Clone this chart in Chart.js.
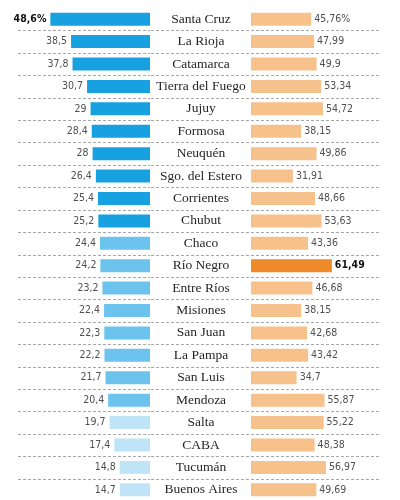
<!DOCTYPE html>
<html><head><meta charset="utf-8">
<script src="https://cdn.jsdelivr.net/npm/chart.js@4.4.0/dist/chart.umd.min.js"></script>
<style>
html,body{margin:0;padding:0;background:#fff;width:400px;height:500px;overflow:hidden;}
#wrap{position:relative;width:400px;height:500px;overflow:hidden;}
#left{position:absolute;left:0;top:0;}
#right{position:absolute;left:151px;top:0;}
</style></head><body>
<div id="wrap"><canvas id="left" width="150" height="501"></canvas><canvas id="right" width="249" height="501"></canvas></div>
<script>
const provinces = ["Santa Cruz","La Rioja","Catamarca","Tierra del Fuego","Jujuy","Formosa","Neuquén","Sgo. del Estero","Corrientes","Chubut","Chaco","Río Negro","Entre Ríos","Misiones","San Juan","La Pampa","San Luis","Mendoza","Salta","CABA","Tucumán","Buenos Aires"];
const leftValues = [48.6,38.5,37.8,30.7,29,28.4,28,26.4,25.4,25.2,24.4,24.2,23.2,22.4,22.3,22.2,21.7,20.4,19.7,17.4,14.8,14.7];
const rightValues = [45.76,47.99,49.9,53.34,54.72,38.15,49.86,31.91,48.66,53.63,43.36,61.49,46.68,38.15,42.68,43.42,34.7,55.87,55.22,48.38,56.97,49.69];

const BLUE_DARK = '#17a1e0', BLUE_MID = '#6bc3ee', BLUE_LIGHT = '#bfe4f7';
const ORANGE = '#f7c18c', ORANGE_DARK = '#ee8a2a';
const NAME_FONT = '13.5px "Liberation Serif", serif';
const VAL_FAMILY = '"Liberation Sans Narrow", "DejaVu Sans Condensed", "Liberation Sans", sans-serif';

function fmt(v){ return String(v).replace('.', ','); }
const maxRight = Math.max(...rightValues);

const leftColors = leftValues.map(v => v >= 25 ? BLUE_DARK : (v >= 20 ? BLUE_MID : BLUE_LIGHT));
const rightColors = rightValues.map(v => v === maxRight ? ORANGE_DARK : ORANGE);

const separators = {
  id: 'separators',
  beforeDatasetsDraw(chart, args, opts) {
    const ctx = chart.ctx, ys = chart.scales.y;
    ctx.save();
    ctx.strokeStyle = '#a8a8a8';
    ctx.lineWidth = 1;
    ctx.setLineDash([3, 2]);
    for (let i = 1; i < provinces.length; i++) {
      const y = Math.round((ys.getPixelForValue(i - 1) + ys.getPixelForValue(i)) / 2) + 0.5;
      ctx.beginPath();
      ctx.moveTo(opts.x0, y);
      ctx.lineTo(opts.x1, y);
      ctx.stroke();
    }
    ctx.restore();
  }
};

const valueLabels = {
  id: 'valueLabels',
  afterDatasetsDraw(chart, args, opts) {
    const ctx = chart.ctx;
    const meta = chart.getDatasetMeta(0);
    const vals = chart.data.datasets[0].data;
    ctx.save();
    ctx.textBaseline = 'middle';
    meta.data.forEach((bar, i) => {
      const bold = opts.boldIndex.includes(i);
      ctx.font = (bold ? 'bold ' : '') + '10.5px ' + VAL_FAMILY;
      ctx.fillStyle = bold ? '#111' : '#505050';
      let txt = fmt(vals[i]) + (i === 0 ? '%' : '');
      if (opts.side === 'left') {
        ctx.textAlign = 'right';
        ctx.fillText(txt, bar.x - 4, bar.y);
      } else {
        ctx.textAlign = 'left';
        ctx.fillText(txt, bar.x + 3, bar.y);
      }
    });
    ctx.restore();
  }
};

// measure widest province name to center names in the 100px middle column
const mctx = document.createElement('canvas').getContext('2d');
mctx.font = NAME_FONT;
const widest = Math.max(...provinces.map(p => mctx.measureText(p).width));
const MID_W = 100;
const namePad = (MID_W - widest) / 2;

Chart.defaults.animation = false;

new Chart(document.getElementById('left'), {
  type: 'bar',
  data: { labels: provinces, datasets: [{ data: leftValues, backgroundColor: leftColors, borderWidth: 0, barPercentage: 0.58, categoryPercentage: 1 }] },
  options: {
    responsive: false, indexAxis: 'y',
    layout: { padding: { top: 8, bottom: 0, left: 0, right: 0 } },
    scales: {
      x: { display: false, reverse: true, min: 0, max: 150 / 2.05 },
      y: { display: false }
    },
    plugins: {
      legend: { display: false }, tooltip: { enabled: false },
      separators: { x0: 18, x1: 150 },
      valueLabels: { side: 'left', boldIndex: [0] }
    }
  },
  plugins: [separators, valueLabels]
});

new Chart(document.getElementById('right'), {
  type: 'bar',
  data: { labels: provinces, datasets: [{ data: rightValues, backgroundColor: rightColors, borderWidth: 0, barPercentage: 0.58, categoryPercentage: 1 }] },
  options: {
    responsive: false, indexAxis: 'y',
    layout: { padding: { top: 8, bottom: 0, left: 0, right: 0 } },
    scales: {
      x: { display: false, min: 0, max: 149 / 1.315 },
      y: {
        position: 'left',
        grid: { display: false, drawTicks: false },
        border: { display: false },
        ticks: { crossAlign: 'center', padding: namePad, color: '#262626', font: { family: '"Liberation Serif", serif', size: 13.5 } },
        afterFit(scale) { scale.width = MID_W; scale.paddingTop = 0; scale.paddingBottom = 0; }
      }
    },
    plugins: {
      legend: { display: false }, tooltip: { enabled: false },
      separators: { x0: 0, x1: 229 },
      valueLabels: { side: 'right', boldIndex: [rightValues.indexOf(maxRight)] }
    }
  },
  plugins: [separators, valueLabels]
});
</script>
</body></html>
